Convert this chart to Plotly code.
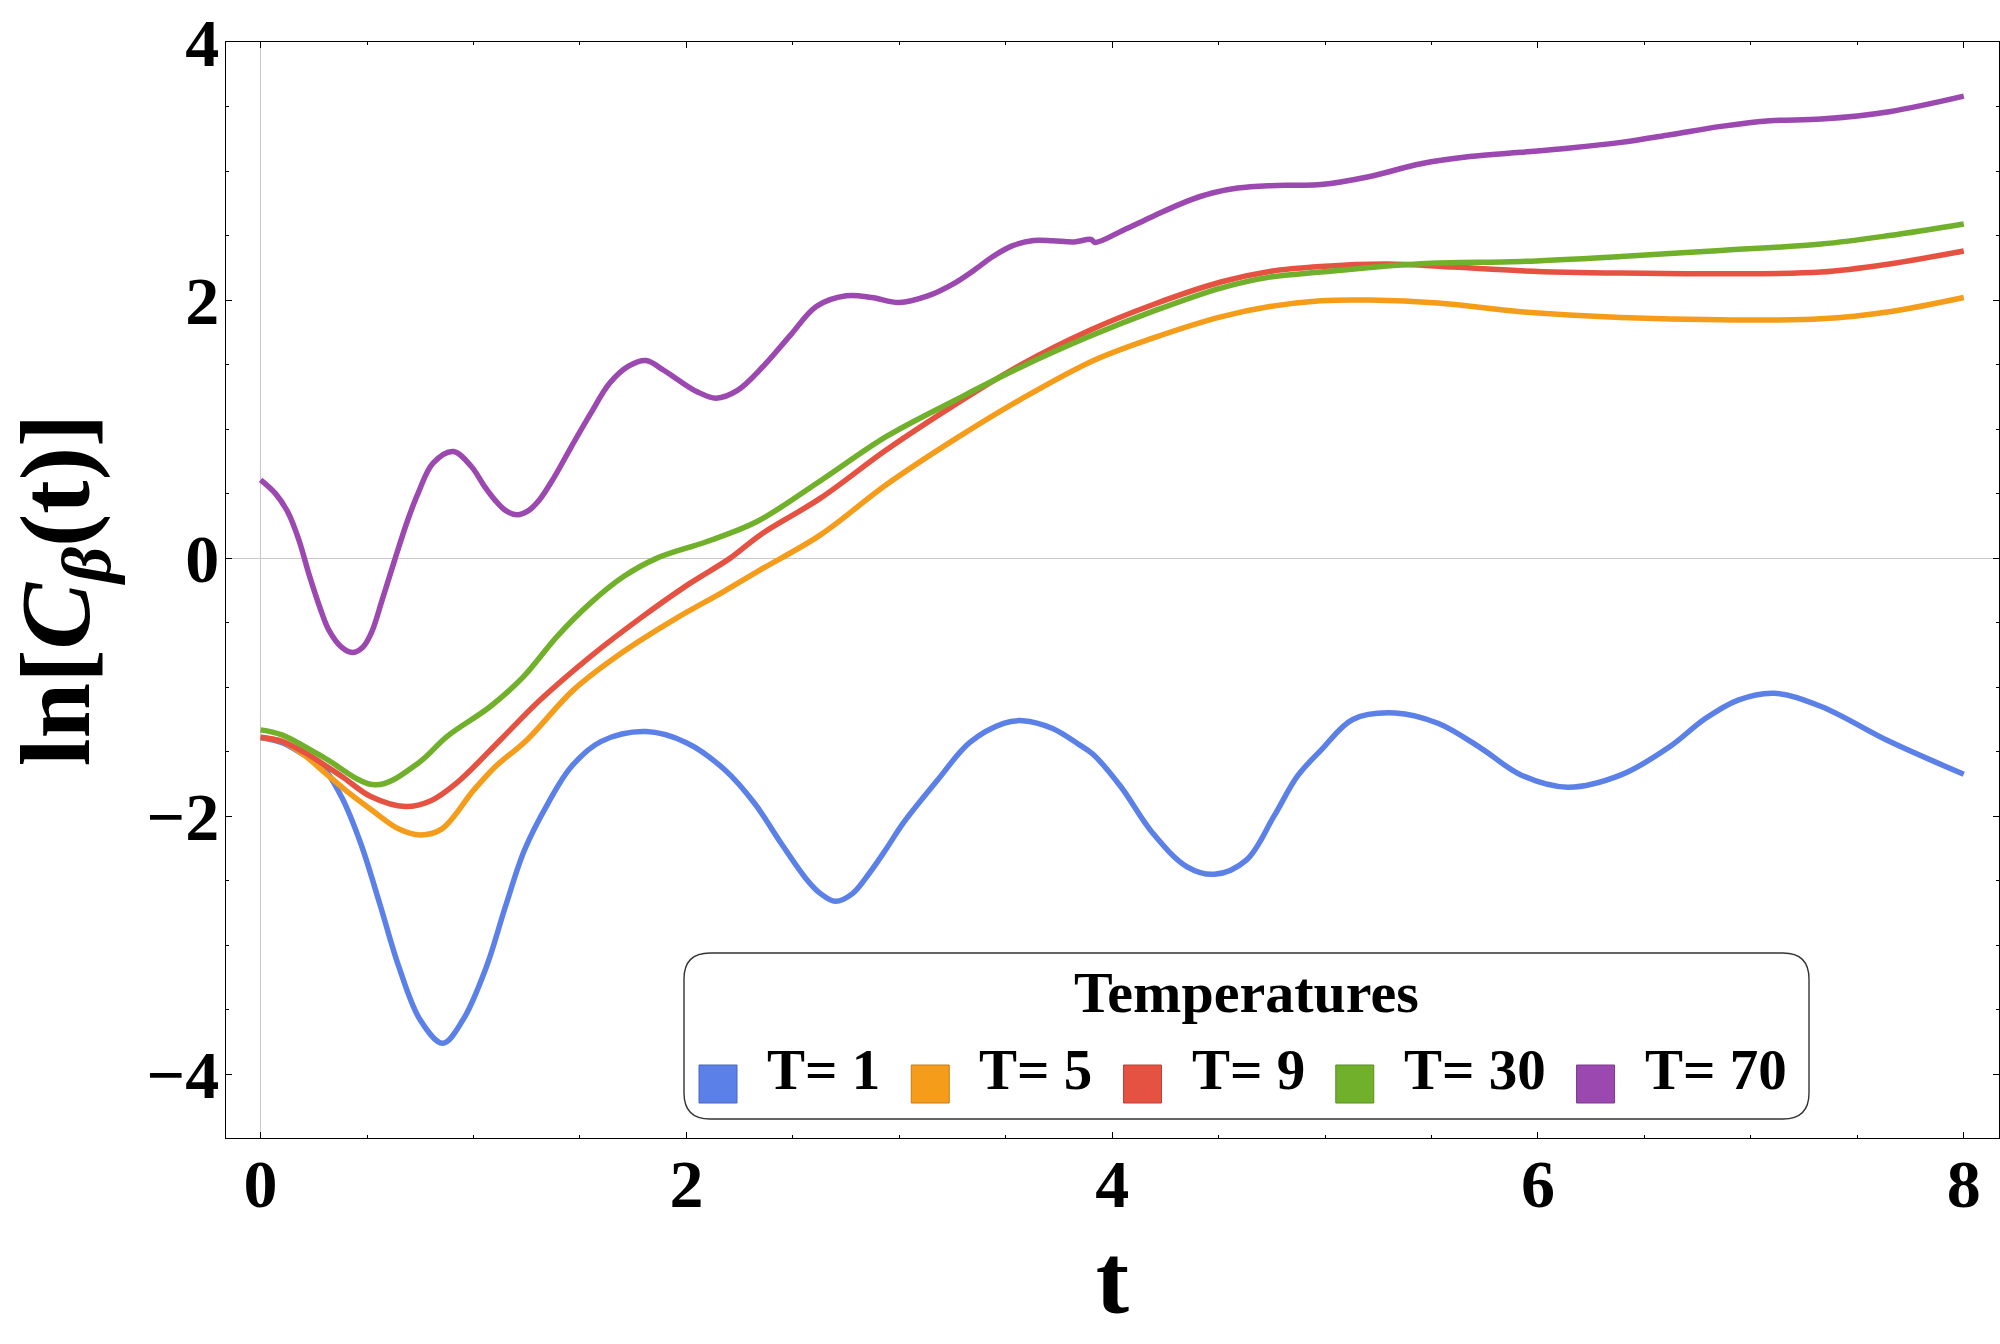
import plotly.graph_objects as go

# ---------------- data ----------------
T_LABELS = ["T= 1", "T= 5", "T= 9", "T= 30", "T= 70"]
COLORS = ["#5b80e8", "#f59c1a", "#e65242", "#70b02a", "#9b48b0"]
EDGE_COLORS = ["#4a66b8", "#c47d15", "#b84235", "#5a8d22", "#7c3a8d"]

t_T1 = [0, 0.1, 0.2, 0.29, 0.38, 0.47, 0.56, 0.65, 0.75, 0.855, 0.95, 1.06, 1.15, 1.24,
        1.35, 1.46, 1.6, 1.81, 2.0, 2.18, 2.32, 2.445, 2.56, 2.63, 2.70, 2.78, 2.86,
        2.94, 3.02, 3.18, 3.33, 3.49, 3.58, 3.72, 3.84, 3.91, 4.04, 4.19, 4.35, 4.48,
        4.63, 4.76, 4.87, 4.98, 5.13, 5.33, 5.53, 5.73, 5.92, 6.14, 6.39, 6.62, 6.78,
        6.94, 7.11, 7.33, 7.65, 8.0]
y_T1 = [-1.39, -1.43, -1.52, -1.615, -1.85, -2.21, -2.68, -3.17, -3.58, -3.76, -3.58,
        -3.17, -2.70, -2.26, -1.90, -1.615, -1.42, -1.344, -1.43, -1.64, -1.90, -2.21,
        -2.48, -2.60, -2.66, -2.60, -2.44, -2.25, -2.05, -1.72, -1.43, -1.28, -1.26,
        -1.32, -1.44, -1.52, -1.77, -2.13, -2.39, -2.45, -2.34, -2.00, -1.69, -1.49,
        -1.25, -1.20, -1.28, -1.47, -1.68, -1.775, -1.68, -1.46, -1.25, -1.10, -1.047,
        -1.15, -1.42, -1.675]

t_T5 = [0, 0.1, 0.2, 0.3, 0.4, 0.52, 0.65, 0.75, 0.85, 1.0, 1.1, 1.251, 1.47, 1.705,
        1.94, 2.175, 2.347, 2.63, 2.94, 3.26, 3.57, 3.91, 4.19, 4.51, 4.74, 4.98,
        5.21, 5.53, 5.92, 6.39, 6.86, 7.33, 7.65, 8.0]
y_T5 = [-1.39, -1.42, -1.52, -1.66, -1.80, -1.95, -2.10, -2.145, -2.10, -1.80, -1.62,
        -1.409, -1.021, -0.724, -0.478, -0.259, -0.091, 0.18, 0.57, 0.92, 1.23, 1.53,
        1.705, 1.87, 1.95, 1.995, 2.00, 1.977, 1.91, 1.865, 1.847, 1.855, 1.91, 2.02]

t_T9 = [0, 0.1, 0.2, 0.38, 0.52, 0.68, 0.8, 0.92, 1.126, 1.314, 1.549, 1.784, 2.018,
        2.206, 2.347, 2.63, 2.94, 3.26, 3.57, 3.90, 4.19, 4.51, 4.74, 4.98, 5.29, 5.60,
        5.92, 6.39, 6.86, 7.33, 7.65, 8.0]
y_T9 = [-1.388, -1.42, -1.50, -1.69, -1.85, -1.925, -1.88, -1.744, -1.409, -1.098,
        -0.763, -0.465, -0.194, 0.0, 0.18, 0.465, 0.84, 1.188, 1.498, 1.77, 1.964,
        2.14, 2.222, 2.26, 2.279, 2.256, 2.227, 2.209, 2.204, 2.217, 2.28, 2.38]

t_T30 = [0, 0.1, 0.29, 0.54, 0.74, 0.875, 1.079, 1.235, 1.392, 1.549, 1.705, 1.862,
         2.097, 2.332, 2.63, 2.94, 3.26, 3.57, 3.90, 4.19, 4.51, 4.74, 4.98, 5.45,
         5.92, 6.39, 6.86, 7.33, 7.65, 8.0]
y_T30 = [-1.331, -1.37, -1.538, -1.757, -1.589, -1.383, -1.15, -0.918, -0.608, -0.349,
         -0.143, 0.0, 0.129, 0.284, 0.60, 0.943, 1.222, 1.48, 1.723, 1.912, 2.093,
         2.178, 2.217, 2.281, 2.299, 2.338, 2.385, 2.434, 2.50, 2.59]

t_T70 = [0, 0.07, 0.13, 0.18, 0.23, 0.28, 0.32, 0.38, 0.43, 0.48, 0.52, 0.57, 0.63,
         0.69, 0.74, 0.81, 0.905, 0.99, 1.05, 1.10, 1.15, 1.205, 1.26, 1.31, 1.38,
         1.46, 1.55, 1.64, 1.73, 1.81, 1.89, 1.96, 2.05, 2.14, 2.24, 2.36, 2.49, 2.61,
         2.75, 2.87, 3.0, 3.13, 3.26, 3.35, 3.44, 3.53, 3.63, 3.72, 3.82, 3.90, 3.92,
         4.05, 4.19, 4.35, 4.47, 4.59, 4.74, 4.86, 4.98, 5.21, 5.45, 5.68, 5.92, 6.15,
         6.39, 6.62, 6.86, 7.09, 7.33, 7.65, 8.0]
y_T70 = [0.607, 0.50, 0.35, 0.14, -0.14, -0.39, -0.556, -0.69, -0.731, -0.69, -0.58,
         -0.33, -0.013, 0.29, 0.504, 0.736, 0.826, 0.71, 0.56, 0.452, 0.37, 0.336,
         0.37, 0.452, 0.63, 0.865, 1.12, 1.357, 1.49, 1.532, 1.46, 1.382, 1.29, 1.24,
         1.30, 1.485, 1.73, 1.95, 2.033, 2.02, 1.981, 2.03, 2.132, 2.23, 2.338, 2.42,
         2.462, 2.46, 2.45, 2.47, 2.447, 2.54, 2.648, 2.765, 2.83, 2.868, 2.886, 2.89,
         2.895, 2.958, 3.057, 3.113, 3.145, 3.178, 3.222, 3.281, 3.346, 3.39, 3.403,
         3.46, 3.58]

SERIES_T = [t_T1, t_T5, t_T9, t_T30, t_T70]
SERIES_Y = [y_T1, y_T5, y_T9, y_T30, y_T70]

X_TICKS = [0, 2, 4, 6, 8]
Y_TICKS = [-4, -2, 0, 2, 4]
X_TICK_TEXT = ["0", "2", "4", "6", "8"]
Y_TICK_TEXT = ["\u22124", "\u22122", "0", "2", "4"]
X_MINOR = [i * 0.5 for i in range(0, 17)]
Y_MINOR = [-4.5 + i * 0.5 for i in range(0, 18)]

LEGEND_TITLE = "Temperatures"
X_TITLE = "<b>t</b>"
Y_TITLE = "<b>ln[<i>C</i><sub><i>\u03b2</i></sub>(t)]</b>"

# ---------------- figure ----------------
W, H = 2000, 1344
ML, MR, MT, MB = 226, 1, 42, 206
PW, PH = W - ML - MR, H - MT - MB
FONT = "Liberation Serif"

fig = go.Figure()
for t, y, name, c in zip(SERIES_T, SERIES_Y, T_LABELS, COLORS):
    fig.add_trace(go.Scatter(x=t, y=y, mode="lines", name=name, showlegend=False,
                             line=dict(color=c, width=5.5, shape="spline", smoothing=1.0)))


def px(X):
    return (X - ML) / PW


def py(Y):
    return (MT + PH - Y) / PH


# hand-built legend (rounded box, title, square swatches)
bx0, bx1, by0, by1, r = 684, 1809, 953, 1119, 26
pts = [("M", bx0 + r, by0), ("L", bx1 - r, by0), ("Q", bx1, by0, bx1, by0 + r),
       ("L", bx1, by1 - r), ("Q", bx1, by1, bx1 - r, by1), ("L", bx0 + r, by1),
       ("Q", bx0, by1, bx0, by1 - r), ("L", bx0, by0 + r), ("Q", bx0, by0, bx0 + r, by0)]
path = ""
for p in pts:
    cmd = p[0]
    coords = p[1:]
    s = " ".join(f"{px(coords[i]):.5f},{py(coords[i + 1]):.5f}" for i in range(0, len(coords), 2))
    path += f"{cmd}{s} "
path += "Z"
fig.add_shape(type="path", path=path, xref="paper", yref="paper",
              line=dict(color="#333333", width=1.4), fillcolor="white", layer="above")

fig.add_annotation(x=px((bx0 + bx1) / 2), y=py(992), xref="paper", yref="paper",
                   text=f"<b>{LEGEND_TITLE}</b>", showarrow=False, xanchor="center",
                   yanchor="middle", font=dict(family=FONT, size=58, color="black"))

fs = 57
sq = 38
cur = 699
for name, c, ec in zip(T_LABELS, COLORS, EDGE_COLORS):
    fig.add_shape(type="rect", xref="paper", yref="paper",
                  x0=px(cur), x1=px(cur + sq), y0=py(1065 + sq), y1=py(1065),
                  fillcolor=c, line=dict(color=ec, width=1), layer="above")
    tx = cur + sq + 28
    fig.add_annotation(x=px(tx), y=py(1069), xref="paper", yref="paper",
                       text=f"<b>{name}</b>", showarrow=False, xanchor="left",
                       yanchor="middle", font=dict(family=FONT, size=fs, color="black"))
    ndig = len(name.split()[-1])
    tw = fs * (0.667 + 0.57 + 0.25 + 0.5 * ndig)
    cur = tx + tw + 33

axis_common = dict(showline=True, linecolor="black", linewidth=1.3, mirror="ticks",
                   ticks="inside", ticklen=6, tickwidth=1.2, tickcolor="black",
                   showgrid=False, zeroline=True, zerolinecolor="#c8c8c8",
                   zerolinewidth=1.4, automargin=False,
                   tickfont=dict(family=FONT, size=68, color="black", weight="bold"))

fig.update_xaxes(range=[-0.1625, 8.1655], tickmode="array", tickvals=X_TICKS,
                 ticktext=X_TICK_TEXT, ticklabelstandoff=-14,
                 minor=dict(tickmode="array", tickvals=X_MINOR, ticks="inside", ticklen=3,
                            tickcolor="black", tickwidth=1, showgrid=False),
                 title=dict(text=X_TITLE, font=dict(family=FONT, size=100, color="black"),
                            standoff=22),
                 **axis_common)
fig.update_yaxes(range=[-4.494, 4.0], tickmode="array", tickvals=Y_TICKS,
                 ticktext=Y_TICK_TEXT, ticklabelstandoff=-8,
                 minor=dict(tickmode="array", tickvals=Y_MINOR, ticks="inside", ticklen=3,
                            tickcolor="black", tickwidth=1, showgrid=False),
                 title=dict(text=Y_TITLE, font=dict(family=FONT, size=100, color="black"),
                            standoff=25),
                 **axis_common)

fig.update_layout(width=W, height=H, margin=dict(l=ML, r=MR, t=MT, b=MB),
                  paper_bgcolor="white", plot_bgcolor="white", showlegend=False)

fig.write_html("out.html", config={"displayModeBar": False},
               post_script="document.body.style.margin='0';"
                           "document.body.style.overflow='hidden';")
